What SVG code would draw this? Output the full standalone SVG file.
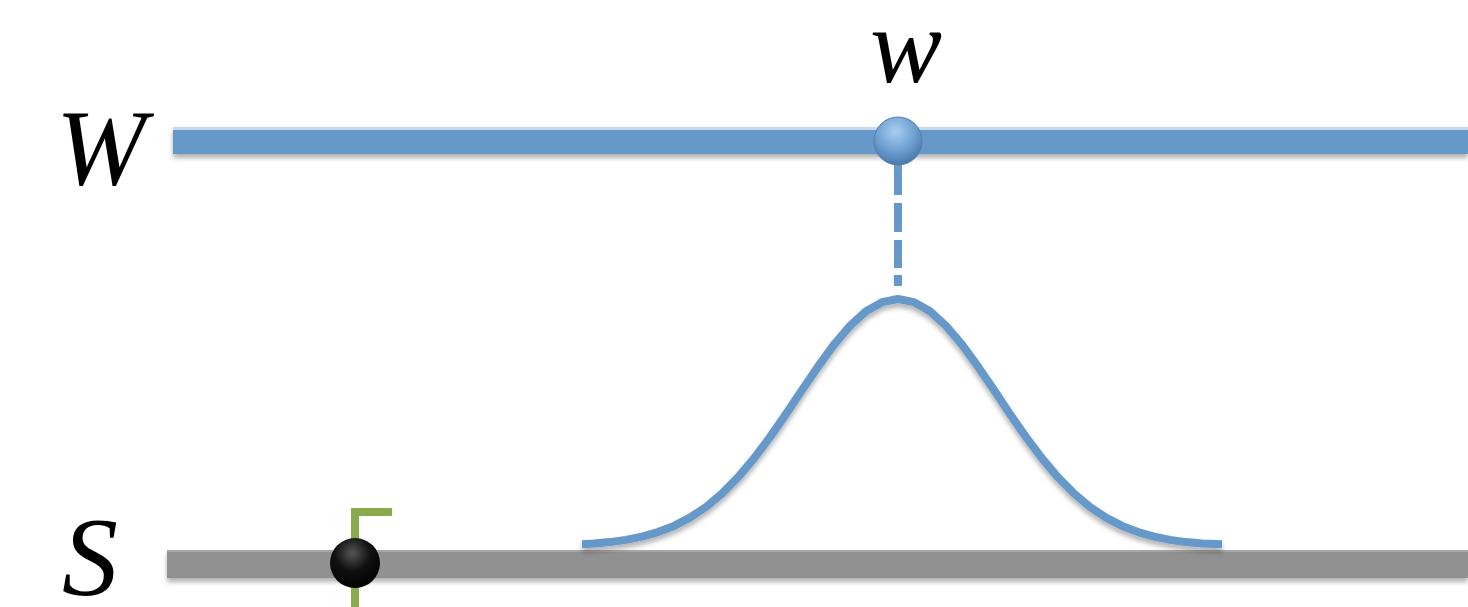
<svg xmlns="http://www.w3.org/2000/svg" width="1468" height="607" viewBox="0 0 1468 607">
<defs>
<filter id="sh" x="-5%" y="-50%" width="110%" height="250%">
<feDropShadow dx="0" dy="4" stdDeviation="2.5" flood-color="#000" flood-opacity="0.3"/>
</filter>
<radialGradient id="blueBall" cx="0.45" cy="0.3" r="0.7">
<stop offset="0" stop-color="#a9cdf2"/>
<stop offset="0.6" stop-color="#6c9ed0"/>
<stop offset="1" stop-color="#4a78a8"/>
</radialGradient>
<radialGradient id="blackBall" cx="0.45" cy="0.3" r="0.7">
<stop offset="0" stop-color="#555"/>
<stop offset="0.5" stop-color="#111"/>
<stop offset="1" stop-color="#000"/>
</radialGradient>
<style>
.lbl{font-family:"Liberation Serif","Times New Roman",serif;font-style:italic;fill:#000}
.blue{stroke:#6699c9;fill:none;stroke-width:8}
</style>
</defs>
<rect width="1468" height="607" fill="#fff"/>
<g id="label-W"><text class="lbl" x="56" y="184" font-size="108">W</text></g>
<g id="label-S"><text class="lbl" x="62" y="595" font-size="112">S</text></g>
<g id="label-w"><text class="lbl" x="870" y="82" font-size="108">w</text></g>
<g id="bar-W" filter="url(#sh)">
<rect x="173" y="127" width="1295" height="27" fill="#6699c9"/>
<rect x="173" y="127" width="1295" height="3" fill="#c8d9ec"/>
</g>
<g id="bar-S" filter="url(#sh)">
<rect x="167" y="550" width="1301" height="28" fill="#919191"/>
<rect x="167" y="550" width="1301" height="2" fill="#a6a6a6"/>
</g>
<g id="connectors">
<g class="blue">
<line x1="898" y1="158" x2="898" y2="195"/>
<line x1="898" y1="203" x2="898" y2="232"/>
<line x1="898" y1="240" x2="898" y2="268"/>
<line x1="898" y1="275" x2="898" y2="286"/>
</g>
<path d="M392,512 H355 V607" fill="none" stroke="#8aaa4e" stroke-width="8"/>
</g>
<g id="gaussian" filter="url(#sh)">
<polyline class="blue" stroke-linejoin="round" points="582,544.3 594,543.6 610,542.1 626,539.9 642,536.7 658,532.1 674,525.9 690,517.6 706,507 722,493.5 738,477.3 754,458.3 770,437.1 786,414.1 802,390.1 818,366.7 834,344.7 850,325.9 866,311.3 882,302.2 898,299 914,302.2 930,311.3 946,325.9 962,344.7 978,366.7 994,390.1 1010,414.1 1026,437.1 1042,458.3 1058,477.3 1074,493.5 1090,507 1106,517.6 1122,525.9 1138,532.1 1154,536.7 1170,539.9 1186,542.1 1202,543.6 1222,544.3"/>
</g>
<g id="node-w"><circle cx="898" cy="141" r="24" fill="url(#blueBall)" stroke="#4f7fae" stroke-width="1"/></g>
<g id="node-s"><circle cx="355" cy="563" r="25" fill="url(#blackBall)"/></g>
</svg>
